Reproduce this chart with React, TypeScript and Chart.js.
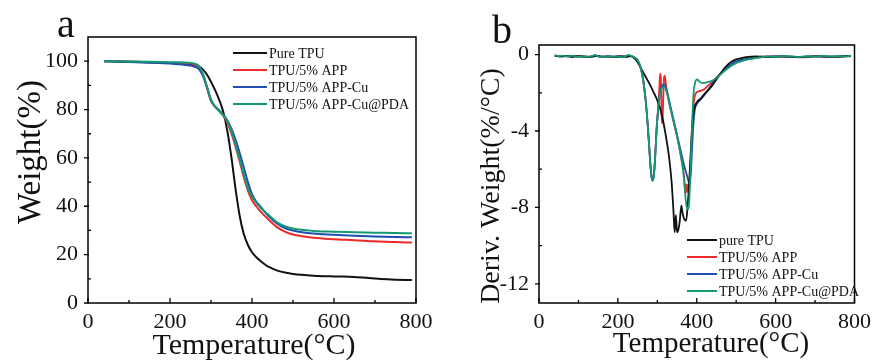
import React, { useEffect, useRef } from "react";
import { Chart, registerables } from "chart.js";
Chart.register(...registerables);

// ---------------- Data: panel a (TGA) ----------------
const tempA = [40, 100, 150, 200, 250, 260, 270, 280, 290, 300, 310, 320, 330, 340, 350, 360, 370, 380, 390, 400, 410, 420, 440, 460, 480, 500, 550, 600, 650, 700, 750, 790];
const weightPure = [100, 99.8, 99.6, 99.3, 98.8, 98.4, 97.8, 96.6, 94.5, 91.5, 88, 84, 79, 71, 60, 47, 36, 28.5, 24, 21, 19, 17.5, 15, 13.5, 12.6, 12, 11.3, 11, 10.8, 10.1, 9.6, 9.5];
const weightApp = [100, 99.8, 99.6, 99.4, 99, 98.6, 97.6, 94.5, 89, 83.5, 81.2, 79.5, 77.5, 74.5, 70, 64.5, 58.5, 52, 46.5, 42.5, 40, 38, 34.5, 31.5, 29.5, 28.3, 27, 26.4, 26, 25.5, 25.2, 25];
const weightAppCu = [100, 99.7, 99.4, 99, 98.2, 97.7, 96.8, 94, 89.5, 84, 81.3, 79.6, 77.8, 75.5, 72, 67.5, 62, 56, 50, 45, 42, 40, 36, 33, 31, 30, 28.7, 28.2, 27.8, 27.5, 27.3, 27.2];
const weightAppCuPda = [100, 99.9, 99.8, 99.6, 99.3, 99, 98.2, 95, 89.5, 84, 81.2, 79.4, 77.5, 75.2, 71, 65.5, 59.5, 53, 47.5, 44, 41.5, 39.5, 36.5, 33.5, 31.8, 30.8, 29.8, 29.5, 29.3, 29.1, 28.9, 28.8];

// ---------------- Data: panel b (DTG), [temperature, deriv] ----------------
const dtgPure: [number, number][] = [[40,-0.05],[55,-0.1],[70,-0.07],[85,-0.12],[100,-0.08],[115,-0.11],[130,-0.13],[145,-0.06],[160,-0.12],[175,-0.09],[190,-0.13],[205,-0.1],[220,-0.12],[232,-0.08],[242,-0.2],[250,-0.4],[258,-0.7],[266,-1.0],[274,-1.3],[282,-1.6],[290,-1.95],[298,-2.3],[306,-2.75],[314,-3.4],[322,-4.3],[330,-5.4],[336,-6.6],[341,-8.2],[344,-9.3],[347,-8.4],[350,-9.3],[353,-9.2],[357,-8.7],[361,-7.9],[364,-8.3],[368,-8.6],[373,-8.7],[377,-7.9],[381,-6.6],[385,-5.0],[389,-3.6],[394,-2.8],[400,-2.5],[410,-2.3],[420,-2.05],[430,-1.85],[440,-1.6],[450,-1.3],[460,-1.0],[470,-0.72],[480,-0.5],[490,-0.35],[500,-0.25],[515,-0.18],[530,-0.12],[550,-0.1],[580,-0.12],[620,-0.1],[660,-0.12],[700,-0.09],[740,-0.11],[790,-0.08]];
const dtgApp: [number, number][] = [[40,-0.06],[55,-0.09],[70,-0.08],[85,-0.11],[100,-0.09],[115,-0.12],[130,-0.1],[145,-0.07],[160,-0.11],[175,-0.1],[190,-0.12],[205,-0.09],[220,-0.11],[232,-0.07],[242,-0.15],[250,-0.3],[258,-0.7],[264,-1.3],[270,-2.3],[275,-3.5],[279,-4.7],[283,-5.9],[286,-6.4],[289,-6.5],[292,-6.1],[295,-5.1],[298,-3.9],[302,-2.8],[305,-1.8],[307,-1.0],[309,-1.2],[311,-3.2],[313,-3.6],[315,-2.4],[317,-1.2],[319,-1.1],[322,-1.6],[326,-2.1],[332,-2.7],[340,-3.4],[348,-4.1],[356,-4.9],[363,-5.7],[368,-6.4],[371,-7.3],[373,-6.8],[375,-7.2],[377,-6.8],[380,-7.0],[383,-6.3],[386,-5.0],[389,-3.6],[392,-2.6],[396,-2.1],[402,-1.95],[410,-1.9],[420,-1.8],[430,-1.6],[440,-1.4],[450,-1.2],[460,-1.0],[470,-0.8],[480,-0.62],[490,-0.48],[500,-0.38],[520,-0.28],[540,-0.2],[560,-0.14],[590,-0.1],[630,-0.12],[670,-0.15],[700,-0.1],[740,-0.12],[790,-0.08]];
const dtgAppCu: [number, number][] = [[40,-0.07],[55,-0.1],[70,-0.09],[85,-0.1],[100,-0.1],[115,-0.1],[130,-0.12],[145,-0.08],[160,-0.1],[175,-0.11],[190,-0.1],[205,-0.1],[220,-0.1],[232,-0.08],[242,-0.15],[250,-0.3],[258,-0.7],[264,-1.3],[270,-2.3],[275,-3.5],[279,-4.7],[283,-5.9],[286,-6.5],[289,-6.6],[292,-6.2],[295,-5.2],[298,-4.0],[302,-2.9],[307,-2.0],[312,-1.65],[318,-1.55],[324,-1.9],[332,-2.6],[340,-3.3],[350,-4.2],[360,-5.1],[368,-5.8],[375,-6.3],[381,-6.7],[385,-6.2],[388,-5.0],[391,-3.8],[395,-2.9],[400,-2.6],[410,-2.35],[420,-2.1],[430,-1.8],[440,-1.5],[450,-1.25],[460,-1.0],[470,-0.8],[480,-0.6],[490,-0.45],[500,-0.35],[520,-0.25],[540,-0.18],[560,-0.12],[600,-0.1],[650,-0.12],[700,-0.1],[750,-0.11],[790,-0.07]];
const dtgAppCuPda: [number, number][] = [[40,-0.04],[50,-0.08],[60,-0.06],[72,-0.1],[85,-0.07],[98,-0.12],[110,-0.09],[122,-0.13],[135,-0.08],[142,-0.02],[150,-0.1],[162,-0.13],[175,-0.08],[188,-0.12],[200,-0.1],[212,-0.14],[222,-0.06],[228,-0.02],[236,-0.1],[242,-0.15],[250,-0.3],[258,-0.7],[264,-1.3],[270,-2.3],[275,-3.5],[279,-4.7],[283,-5.9],[286,-6.5],[289,-6.6],[292,-6.2],[295,-5.2],[298,-4.0],[302,-2.9],[307,-2.0],[312,-1.75],[318,-1.7],[324,-2.0],[332,-2.7],[340,-3.4],[348,-4.1],[356,-4.9],[363,-5.7],[368,-6.6],[372,-7.6],[376,-8.1],[380,-7.9],[383,-6.8],[386,-5.0],[389,-3.2],[392,-2.0],[396,-1.45],[401,-1.3],[406,-1.4],[415,-1.5],[425,-1.45],[435,-1.4],[445,-1.3],[455,-1.15],[465,-0.95],[475,-0.78],[485,-0.62],[495,-0.5],[505,-0.4],[520,-0.3],[540,-0.22],[560,-0.15],[580,-0.1],[600,-0.12],[620,-0.08],[640,-0.1],[660,-0.13],[680,-0.09],[700,-0.11],[720,-0.07],[740,-0.1],[760,-0.08],[780,-0.1],[790,-0.05]];

// ---------------- Labels / ticks ----------------
const namesA = ["Pure TPU", "TPU/5% APP", "TPU/5% APP-Cu", "TPU/5% APP-Cu@PDA"];
const namesB = ["pure TPU", "TPU/5% APP", "TPU/5% APP-Cu", "TPU/5% APP-Cu@PDA"];
const colors = ["#111111", "#ec2a2a", "#1f4db0", "#139a72"];
const xMajor = [0, 200, 400, 600, 800];
const xMinor = [100, 300, 500, 700];
const yMajorA = [0, 20, 40, 60, 80, 100];
const yMinorA = [10, 30, 50, 70, 90];
const yMajorB = [0, -4, -8, -12];
const yMinorB = [-2, -6, -10];

const FONT = "'Liberation Serif', 'Times New Roman', serif";

type PanelCfg = {
  width: number; height: number;
  area: { left: number; right: number; top: number; bottom: number };
  yMin: number; yMax: number;
  yMajor: number[]; yMinor: number[];
  datasets: any[];
  names: string[];
  letter: string; letterPos: [number, number];
  yTitle: string; yTitleFont: number; yTitlePos: [number, number];
  xTitle: string; xTitleFont: number; xTitlePos: [number, number];
  legend: { x: number; y: number; len: number; gap: number };
};

function makeDecor(cfg: PanelCfg) {
  return {
    id: "decor",
    afterDraw(chart: any) {
      const ctx = chart.ctx as CanvasRenderingContext2D;
      const { left, right, top, bottom } = chart.chartArea;
      const xs = chart.scales.x;
      const ys = chart.scales.y;
      ctx.save();
      ctx.strokeStyle = "#000";
      ctx.lineWidth = 1.5;
      ctx.strokeRect(left, top, right - left, bottom - top);
      ctx.lineWidth = 1.3;
      ctx.beginPath();
      xMajor.forEach((v) => { const p = xs.getPixelForValue(v); ctx.moveTo(p, bottom); ctx.lineTo(p, bottom - 5); });
      xMinor.forEach((v) => { const p = xs.getPixelForValue(v); ctx.moveTo(p, bottom); ctx.lineTo(p, bottom - 3); });
      cfg.yMajor.forEach((v) => { const p = ys.getPixelForValue(v); ctx.moveTo(left - 4, p); ctx.lineTo(left + 1, p); });
      cfg.yMinor.forEach((v) => { const p = ys.getPixelForValue(v); ctx.moveTo(left, p); ctx.lineTo(left + 3, p); });
      ctx.stroke();

      // legend
      ctx.font = `14px ${FONT}`;
      ctx.textBaseline = "middle";
      ctx.textAlign = "left";
      cfg.names.forEach((n, i) => {
        const y = cfg.legend.y + i * cfg.legend.gap;
        ctx.strokeStyle = colors[i];
        ctx.lineWidth = 2;
        ctx.beginPath();
        ctx.moveTo(cfg.legend.x, y);
        ctx.lineTo(cfg.legend.x + cfg.legend.len, y);
        ctx.stroke();
        ctx.fillStyle = "#111";
        ctx.fillText(n, cfg.legend.x + cfg.legend.len + 2, y + 1);
      });

      // panel letter
      ctx.fillStyle = "#111";
      ctx.font = `40px ${FONT}`;
      ctx.textBaseline = "alphabetic";
      ctx.fillText(cfg.letter, cfg.letterPos[0], cfg.letterPos[1]);

      // x title
      ctx.font = `${cfg.xTitleFont}px ${FONT}`;
      ctx.textAlign = "center";
      ctx.fillText(cfg.xTitle, cfg.xTitlePos[0], cfg.xTitlePos[1]);

      // y title
      ctx.save();
      ctx.translate(cfg.yTitlePos[0], cfg.yTitlePos[1]);
      ctx.rotate(-Math.PI / 2);
      ctx.font = `${cfg.yTitleFont}px ${FONT}`;
      ctx.textAlign = "center";
      ctx.textBaseline = "middle";
      ctx.fillText(cfg.yTitle, 0, 0);
      ctx.restore();
      ctx.restore();
    },
  };
}

function Panel({ cfg, style }: { cfg: PanelCfg; style: React.CSSProperties }) {
  const ref = useRef<HTMLCanvasElement>(null);
  useEffect(() => {
    if (!ref.current) return;
    const { width, height, area } = cfg;
    const chart = new Chart(ref.current, {
      type: "line",
      data: { datasets: cfg.datasets },
      options: {
        animation: false,
        responsive: false,
        devicePixelRatio: 1,
        layout: { padding: { left: 0, bottom: 0, top: area.top, right: width - area.right } },
        plugins: { legend: { display: false }, tooltip: { enabled: false } },
        elements: { point: { radius: 0 } },
        scales: {
          x: {
            type: "linear", min: 0, max: 800,
            grid: { display: false, drawTicks: false },
            border: { display: false },
            ticks: { font: { family: FONT, size: 22 }, color: "#111", padding: 6, maxRotation: 0, autoSkip: false, callback: (v: any) => String(v) },
            afterBuildTicks: (s: any) => { s.ticks = xMajor.map((v) => ({ value: v })); },
            afterFit: (s: any) => { s.height = height - area.bottom; },
          },
          y: {
            type: "linear", min: cfg.yMin, max: cfg.yMax,
            grid: { display: false, drawTicks: false },
            border: { display: false },
            ticks: { font: { family: FONT, size: 22 }, color: "#111", padding: 10, autoSkip: false, callback: (v: any) => String(v) },
            afterBuildTicks: (s: any) => { s.ticks = cfg.yMajor.map((v) => ({ value: v })); },
            afterFit: (s: any) => { s.width = area.left; },
          },
        },
      } as any,
      plugins: [makeDecor(cfg)],
    });
    return () => chart.destroy();
  }, [cfg]);
  return <canvas ref={ref} width={cfg.width} height={cfg.height} style={{ position: "absolute", ...style, width: cfg.width, height: cfg.height }} />;
}

const lineDs = (label: string, color: string, data: { x: number; y: number }[], order: number, width = 1.8) => ({
  label, data, borderColor: color, backgroundColor: color, borderWidth: width,
  pointRadius: 0, cubicInterpolationMode: "monotone", fill: false, order,
});

const seriesA = [weightPure, weightApp, weightAppCu, weightAppCuPda];
const seriesB = [dtgPure, dtgApp, dtgAppCu, dtgAppCuPda];
const ordersA = [3, 2, 1, 0];
const ordersB = [1, 3, 2, 0];

const cfgA: PanelCfg = {
  width: 440, height: 363,
  area: { left: 88, right: 416, top: 37, bottom: 303 },
  yMin: 0, yMax: 110, yMajor: yMajorA, yMinor: yMinorA,
  datasets: seriesA.map((s, i) => lineDs(namesA[i], colors[i], tempA.map((t, j) => ({ x: t, y: s[j] })), ordersA[i], 2)),
  names: namesA,
  letter: "a", letterPos: [57, 37],
  yTitle: "Weight(%)", yTitleFont: 33, yTitlePos: [31, 152],
  xTitle: "Temperature(\u00B0C)", xTitleFont: 30, xTitlePos: [254, 354],
  legend: { x: 233, y: 53, len: 34, gap: 17 },
};

const cfgB: PanelCfg = {
  width: 437, height: 363,
  area: { left: 99, right: 419, top: 45, bottom: 303 },
  yMin: -13, yMax: 0.5, yMajor: yMajorB, yMinor: yMinorB,
  datasets: seriesB.map((s, i) => lineDs(namesB[i], colors[i], s.map(([t, d]) => ({ x: t, y: d })), ordersB[i], 1.8)),
  names: namesB,
  letter: "b", letterPos: [52, 43],
  yTitle: "Deriv. Weight(%/\u00B0C)", yTitleFont: 28, yTitlePos: [52, 186],
  xTitle: "Temperature(\u00B0C)", xTitleFont: 29, xTitlePos: [271, 352],
  legend: { x: 247, y: 240, len: 30, gap: 17 },
};

export default function App() {
  return (
    <div style={{ position: "absolute", left: 0, top: 0, width: 877, height: 363, background: "#fff", overflow: "hidden" }}>
      <Panel cfg={cfgA} style={{ left: 0, top: 0 }} />
      <Panel cfg={cfgB} style={{ left: 440, top: 0 }} />
    </div>
  );
}
